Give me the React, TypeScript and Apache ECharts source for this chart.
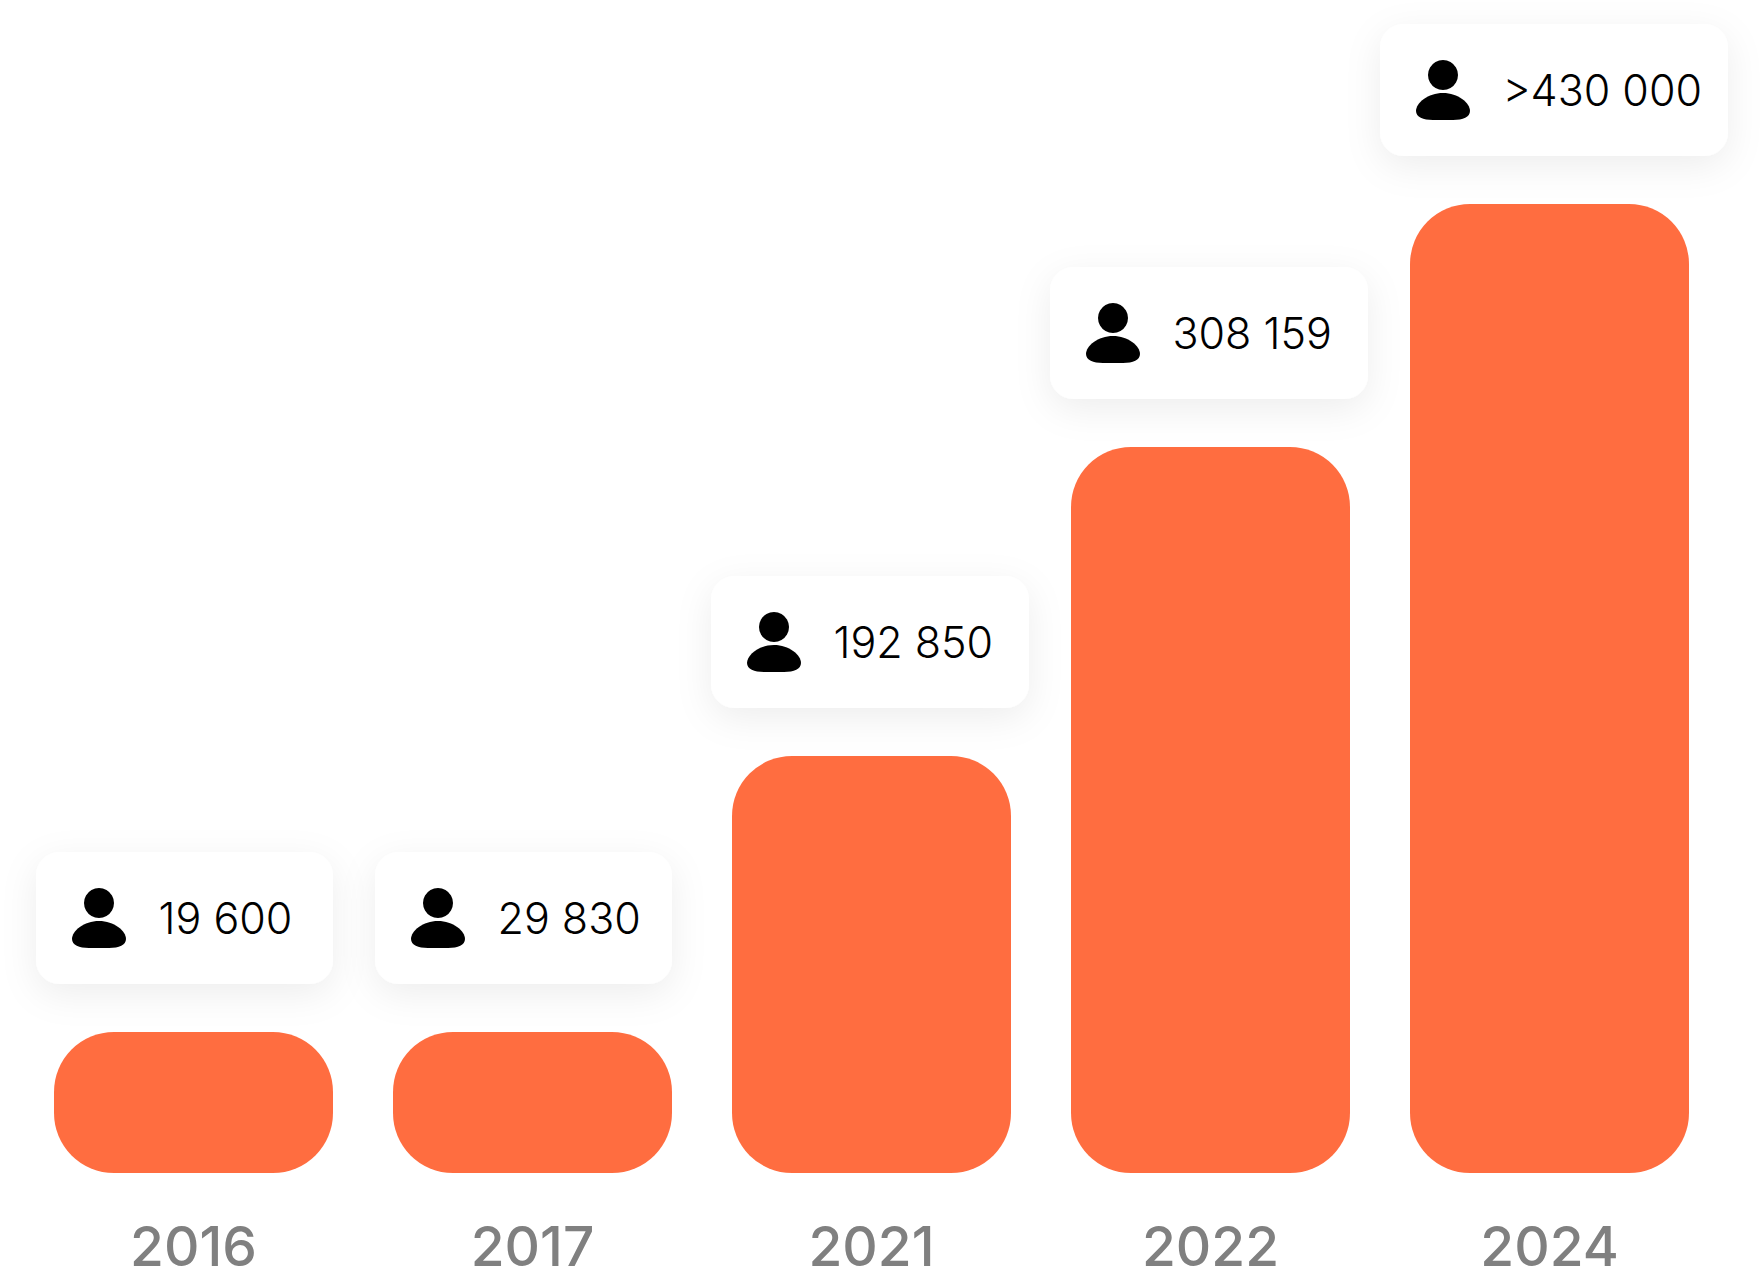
import React, { useEffect, useRef } from "react";
import * as echarts from "echarts";

const years = ["2016", "2017", "2021", "2022", "2024"];
const barHeights = [141, 141, 417, 726, 969];
const userCounts = ["19 600", "29 830", "192 850", "308 159", ">430 000"];

// layout of the floating cards (not data)
const cardWidths = [297, 297, 318, 318, 348];
const cardCenterShift = [-9, -9, -1.5, -1.5, 4.5];
const CARD_H = 132;
const CARD_GAP = 48;
const BODY_PATH = "M27 0C42 0 54 10 54 18C54 24 47 27 37 27L17 27C7 27 0 24 0 18C0 10 12 0 27 0Z";

const PLOT_H = 1173;

export default function App() {
  const ref = useRef<HTMLDivElement>(null);
  useEffect(() => {
    document.body.style.margin = "0";
    const chart = echarts.init(ref.current!, null, { renderer: "svg" });
    chart.setOption({
      animation: false,
      backgroundColor: "#ffffff",
      grid: { left: 24, width: 1695, top: 0, height: PLOT_H, containLabel: false },
      xAxis: {
        type: "category",
        data: years,
        axisLine: { show: false },
        axisTick: { show: false },
        axisLabel: {
          color: "#808080",
          fontFamily: "Inter",
          fontWeight: 500,
          fontSize: 55,
          margin: 45,
          interval: 0,
        },
      },
      yAxis: { type: "value", min: 0, max: PLOT_H, show: false },
      series: [
        {
          type: "bar",
          data: barHeights,
          barWidth: 279,
          itemStyle: { color: "#FF6D40", borderRadius: 60 },
          silent: true,
        },
        {
          type: "custom",
          data: barHeights.map((h, i) => [i, h]),
          encode: { x: 0, y: 1 },
          silent: true,
          renderItem: (params: any, api: any) => {
            const i = params.dataIndex;
            const top = api.coord([i, api.value(1)]);
            const w = cardWidths[i];
            const x = top[0] + cardCenterShift[i] - w / 2;
            const y = top[1] - CARD_GAP - CARD_H;
            return {
              type: "group",
              children: [
                {
                  type: "rect",
                  shape: { x, y, width: w, height: CARD_H, r: 24 },
                  style: {
                    fill: "#ffffff",
                    shadowBlur: 36,
                    shadowOffsetY: 10,
                    shadowColor: "rgba(0,0,0,0.07)",
                  },
                },
                {
                  type: "circle",
                  shape: { cx: x + 63, cy: y + 51, r: 15 },
                  style: { fill: "#000000" },
                },
                {
                  type: "path",
                  shape: {
                    pathData: BODY_PATH,
                    x: x + 36,
                    y: y + 69,
                    width: 54,
                    height: 27,
                  },
                  style: { fill: "#000000" },
                },
                {
                  type: "text",
                  style: {
                    x: x + 122.5,
                    y: y + CARD_H / 2 - 0.5,
                    text: userCounts[i],
                    fill: "#000000",
                    font: "350 43px Inter",
                    textAlign: "left",
                    textVerticalAlign: "middle",
                  },
                },
              ],
            };
          },
        },
      ],
    });
    return () => chart.dispose();
  }, []);
  return <div ref={ref} style={{ width: 1764, height: 1278 }} />;
}
